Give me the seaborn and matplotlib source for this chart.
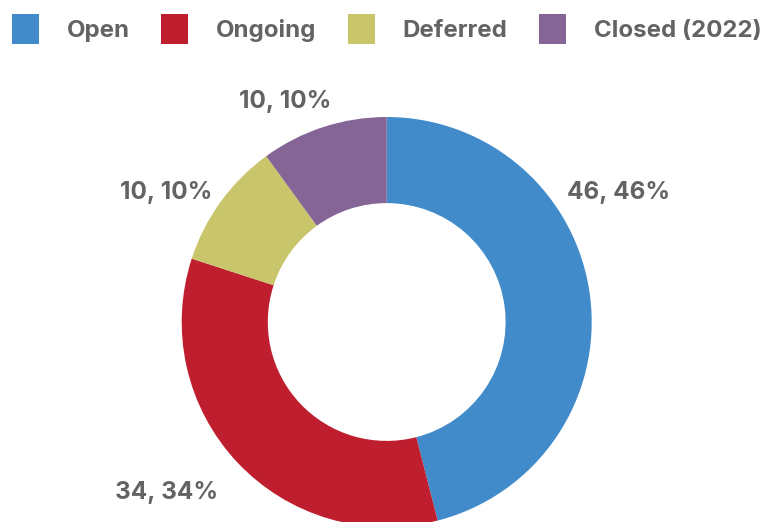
import matplotlib
matplotlib.use("Agg")
import matplotlib.pyplot as plt
from matplotlib.patches import Patch
import seaborn as sns

categories = ["Open", "Ongoing", "Deferred", "Closed (2022)"]
values = [46, 34, 10, 10]
colors = ["#418bca", "#be1e2d", "#c8c56b", "#856496"]

# label anchor positions in data units (radius = 1)
label_pos = [(1.13, 0.63), (-1.075, -0.83), (-1.076, 0.63), (-0.496, 1.075)]

sns.set_theme(style="white")
plt.rcParams["font.family"] = ["Inter", "DejaVu Sans"]
text_color = "#636363"

fig = plt.figure(figsize=(7.61, 5.22), dpi=100)
R_PX = 205.0
L = 1.6
cx, cy = 386.7, 522 - 322.0
w_px = 2 * L * R_PX
ax = fig.add_axes([(cx - w_px / 2) / 761, (cy - w_px / 2) / 522, w_px / 761, w_px / 522])

wedges, _ = ax.pie(values, colors=colors, startangle=90, counterclock=False,
                   radius=1.0, wedgeprops=dict(width=0.42, linewidth=0))
ax.set_xlim(-L, L)
ax.set_ylim(-L, L)
ax.set_aspect("equal")
ax.axis("off")

total = sum(values)
for v, (x, y) in zip(values, label_pos):
    pct = round(v / total * 100)
    ax.text(x, y, f"{v}, {pct}%", ha="center", va="center", fontsize=17.5,
            fontweight="bold", color=text_color, clip_on=False)

handles = [Patch(facecolor=c, edgecolor="none") for c in colors]
fig.legend(handles, categories, loc="upper left", bbox_to_anchor=(12 / 761, 1 - 14 / 522),
           ncol=4, frameon=False, handlelength=1.12, handleheight=1.52,
           handletextpad=1.15, columnspacing=1.32, borderpad=0, borderaxespad=0,
           labelcolor=text_color, prop=dict(family="Inter", weight="bold", size=17.3))

fig.savefig("out.png", dpi=100)
